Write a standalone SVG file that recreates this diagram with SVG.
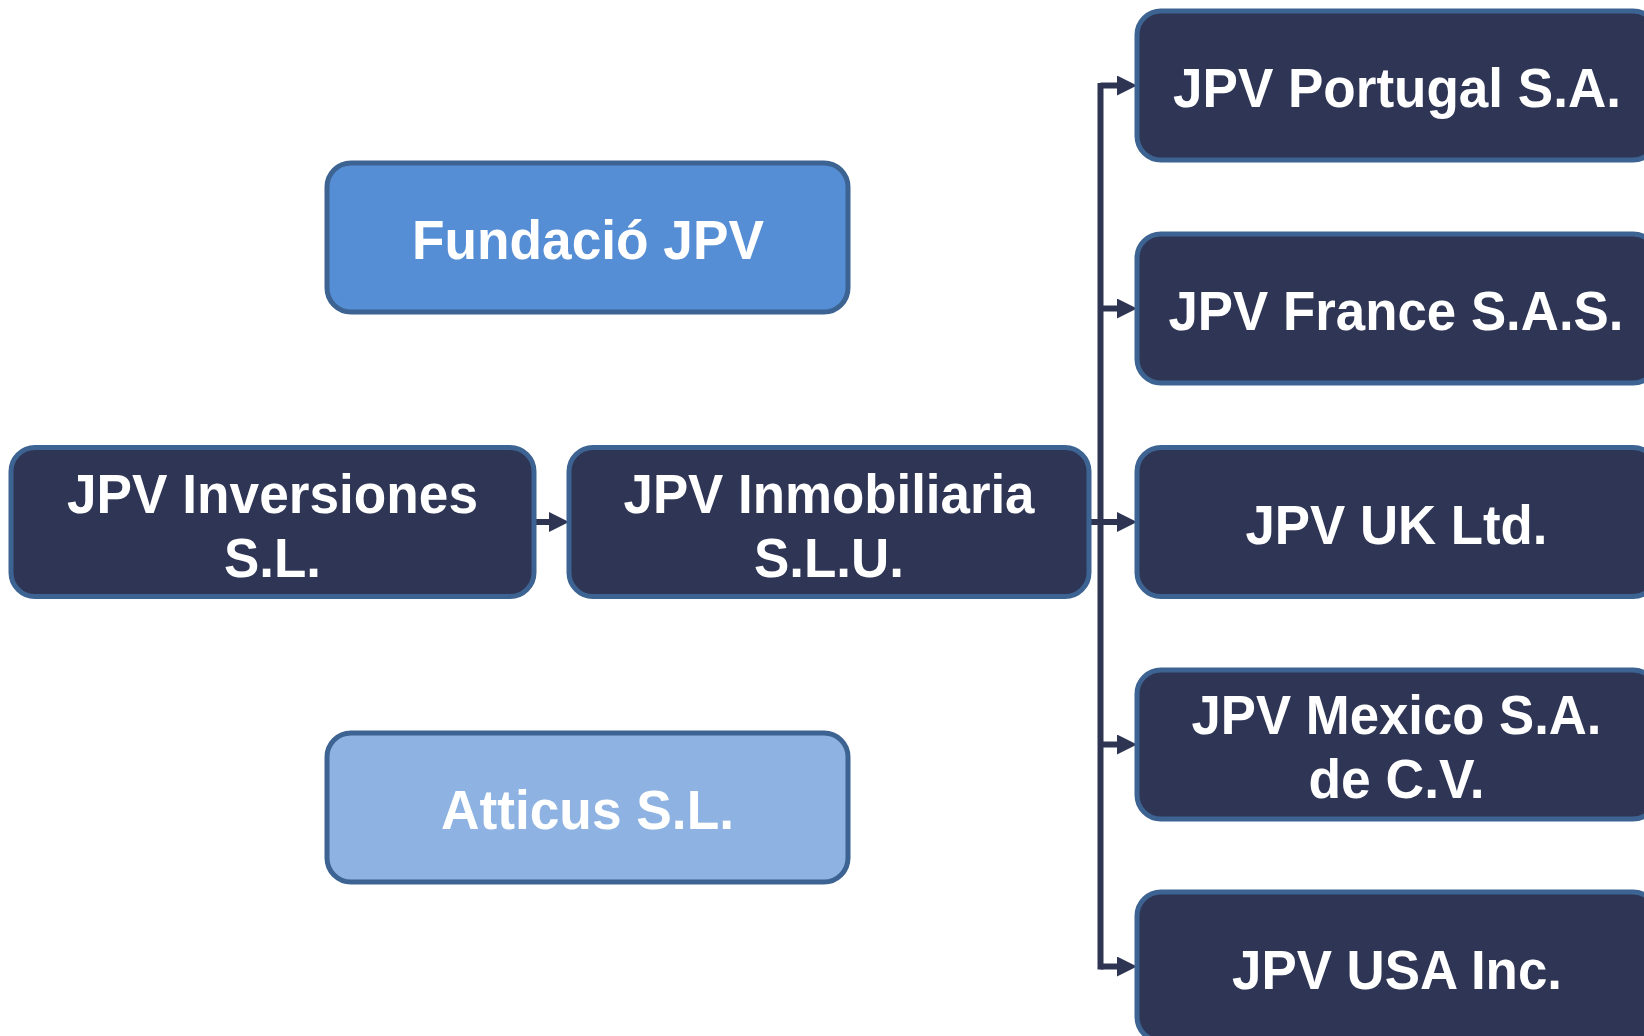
<svg xmlns="http://www.w3.org/2000/svg" width="1644" height="1036" viewBox="0 0 1644 1036">
  <style>
    .box { stroke: #3C6391; stroke-width: 5; }
    .dark { fill: #2F3555; }
    .mid { fill: #558ED5; }
    .light { fill: #8EB3E2; }
    .lbl { font-family: "Liberation Sans", Arial, sans-serif; font-weight: bold; font-size: 55px; fill: #FFFFFF; text-anchor: middle; }
    .con { stroke: #2E3553; stroke-width: 6; fill: none; }
  </style>
  <defs>
    <marker id="arr" markerUnits="userSpaceOnUse" markerWidth="20" markerHeight="20" refX="1" refY="10" orient="auto">
      <path d="M0,0 L20,10 L0,20 Z" fill="#2E3553"/>
    </marker>
  </defs>
  <rect width="1644" height="1036" fill="#FFFFFF"/>

  <g id="connectors">
    <line class="con" x1="534" y1="522" x2="550" y2="522" marker-end="url(#arr)"/>
    <polyline class="con" points="1089,522 1100.5,522"/>
    <line class="con" x1="1100.5" y1="83" x2="1100.5" y2="969.5"/>
    <polyline class="con" points="1100.5,85.5 1118,85.5" marker-end="url(#arr)"/>
    <line class="con" x1="1100.5" y1="308.5" x2="1118" y2="308.5" marker-end="url(#arr)"/>
    <line class="con" x1="1100.5" y1="522" x2="1118" y2="522" marker-end="url(#arr)"/>
    <line class="con" x1="1100.5" y1="744.5" x2="1118" y2="744.5" marker-end="url(#arr)"/>
    <polyline class="con" points="1100.5,966.5 1118,966.5" marker-end="url(#arr)"/>
  </g>

  <g id="fundacio">
    <rect class="box mid" x="327" y="163" width="521" height="149" rx="24"/>
    <text class="lbl" x="588" y="259" textLength="352" lengthAdjust="spacingAndGlyphs">Fundació JPV</text>
  </g>

  <g id="inversiones">
    <rect class="box dark" x="11" y="447.5" width="523" height="149" rx="24"/>
    <text class="lbl" x="272.5" y="512.5" textLength="411" lengthAdjust="spacingAndGlyphs">JPV Inversiones</text>
    <text class="lbl" x="272.5" y="576.5" textLength="97" lengthAdjust="spacingAndGlyphs">S.L.</text>
  </g>

  <g id="inmobiliaria">
    <rect class="box dark" x="569" y="447.5" width="520" height="149" rx="24"/>
    <text class="lbl" x="829" y="512.5" textLength="411" lengthAdjust="spacingAndGlyphs">JPV Inmobiliaria</text>
    <text class="lbl" x="829" y="576.5" textLength="150" lengthAdjust="spacingAndGlyphs">S.L.U.</text>
  </g>

  <g id="atticus">
    <rect class="box light" x="327" y="733" width="521" height="149" rx="24"/>
    <text class="lbl" x="587.5" y="828.5" textLength="293" lengthAdjust="spacingAndGlyphs">Atticus S.L.</text>
  </g>

  <g id="portugal">
    <rect class="box dark" x="1137" y="11" width="520" height="149" rx="24"/>
    <text class="lbl" x="1397" y="106.5" textLength="448" lengthAdjust="spacingAndGlyphs">JPV Portugal S.A.</text>
  </g>

  <g id="france">
    <rect class="box dark" x="1137" y="234" width="520" height="149" rx="24"/>
    <text class="lbl" x="1396" y="329.5" textLength="455" lengthAdjust="spacingAndGlyphs">JPV France S.A.S.</text>
  </g>

  <g id="uk">
    <rect class="box dark" x="1137" y="447.5" width="520" height="149" rx="24"/>
    <text class="lbl" x="1396.5" y="544" textLength="302" lengthAdjust="spacingAndGlyphs">JPV UK Ltd.</text>
  </g>

  <g id="mexico">
    <rect class="box dark" x="1137" y="670" width="520" height="149" rx="24"/>
    <text class="lbl" x="1396.5" y="734" textLength="410" lengthAdjust="spacingAndGlyphs">JPV Mexico S.A.</text>
    <text class="lbl" x="1396.5" y="797.5" textLength="176" lengthAdjust="spacingAndGlyphs">de C.V.</text>
  </g>

  <g id="usa">
    <rect class="box dark" x="1137" y="892" width="520" height="149" rx="24"/>
    <text class="lbl" x="1397" y="988.5" textLength="330" lengthAdjust="spacingAndGlyphs">JPV USA Inc.</text>
  </g>
</svg>
